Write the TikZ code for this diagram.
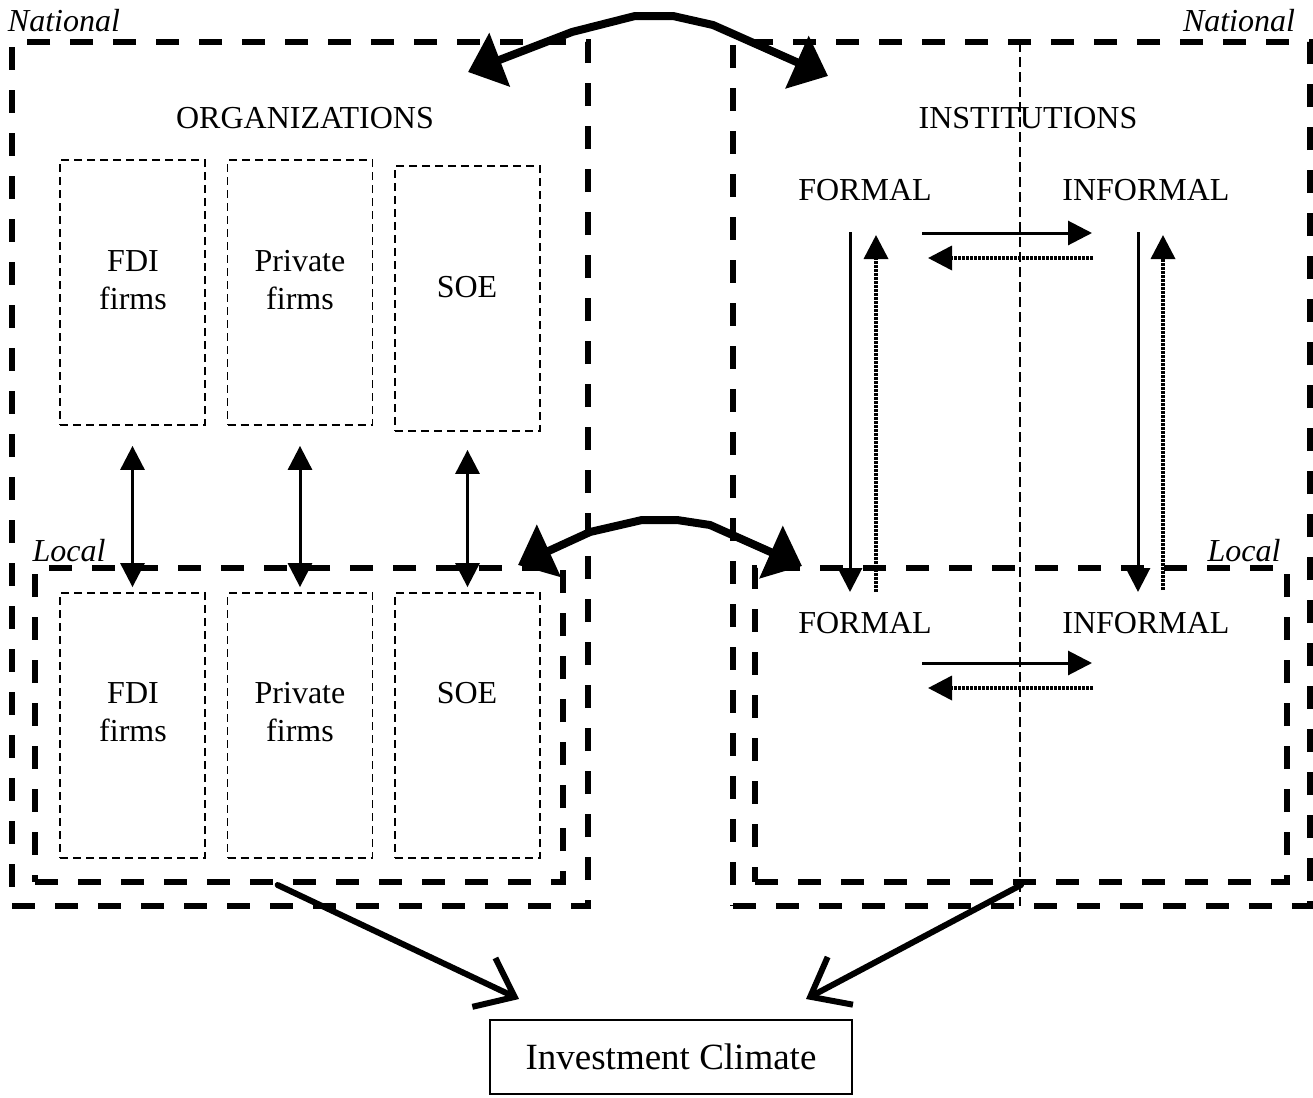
\documentclass[tikz,border=0pt]{standalone}
\usepackage{fontspec}
\setmainfont{Liberation Serif}
\usetikzlibrary{arrows.meta,calc}
\tikzset{
  natbox/.style={draw, line width=3pt, dash pattern=on 11.5pt off 10pt},
  firmbox/.style={draw, line width=0.9pt, dash pattern=on 4pt off 2.5pt, minimum width=72.5pt, minimum height=132.5pt},
  divline/.style={line width=0.9pt, dash pattern=on 5pt off 2.5pt},
  lbl/.style={font=\fontsize{16}{19}\selectfont, align=center, inner sep=0pt},
  lvl/.style={font=\fontsize{16}{19}\selectfont\itshape, inner sep=0pt},
  link/.style={line width=1.5pt, -{Triangle[length=12pt,width=12pt]}},
  linkboth/.style={line width=1.5pt, {Triangle[length=12pt,width=12pt]}-{Triangle[length=12pt,width=12pt]}},
  feedback/.style={line width=1.8pt, dash pattern=on 1.4pt off 0.6pt, -{Triangle[length=12pt,width=12pt]}},
  bridge/.style={line width=4pt, line join=round, {Triangle[length=17pt,width=28pt]}-{Triangle[length=17pt,width=28pt]}},
  effect/.style={line width=3pt, line cap=round, -{Straight Barb[length=17pt,width=27pt]}}
}
\begin{document}
\begin{tikzpicture}[x=0.5pt, y=-0.5pt]
  \useasboundingbox (0,0) rectangle (1313,1098);

  % national and local frames
  \node[natbox, minimum width=288pt, minimum height=432pt] (orgN) at (300,474) {};
  \node[natbox, minimum width=288.5pt, minimum height=432pt] (instN) at (1021.5,474) {};
  \node[natbox, minimum width=264pt, minimum height=157pt] (orgL) at (299,725) {};
  \node[natbox, minimum width=266pt, minimum height=157pt] (instL) at (1021,725) {};
  \draw[divline] (1020,42) -- (1020,906);

  \node[lvl] (natL) at (64,21) {National};
  \node[lvl] (natR) at (1239,21) {National};
  \node[lvl] (locL) at (69,551) {Local};
  \node[lvl] (locR) at (1244,551) {Local};

  \node[lbl] (orgT) at (305,118) {ORGANIZATIONS};
  \node[lbl] (instT) at (1028,118) {INSTITUTIONS};

  % firms
  \node[firmbox] (fdiN) at (132.5,292.5) {};
  \node[firmbox] (privN) at (300,292.5) {};
  \node[firmbox] (soeN) at (467.5,298.5) {};
  \node[firmbox] (fdiL) at (132.5,725.5) {};
  \node[firmbox] (privL) at (300,725.5) {};
  \node[firmbox] (soeL) at (467.5,725.5) {};
  \node[lbl] (fdiNt) at (133,280) {FDI\\firms};
  \node[lbl] (privNt) at (300,280) {Private\\firms};
  \node[lbl] (soeNt) at (467,287) {SOE};
  \node[lbl] (fdiLt) at (133,712) {FDI\\firms};
  \node[lbl] (privLt) at (300,712) {Private\\firms};
  \node[lbl] (soeLt) at (467,693) {SOE};

  \draw[linkboth, shorten <=10pt, shorten >=2.5pt] (fdiN.south) -- (fdiL.north);
  \draw[linkboth, shorten <=10pt, shorten >=2.5pt] (privN.south) -- (privL.north);
  \draw[linkboth, shorten <=9pt, shorten >=2.5pt] (soeN.south) -- (soeL.north);

  % formal / informal
  \node[lbl] (frmN) at (865,190) {FORMAL};
  \node[lbl] (infN) at (1146,190) {INFORMAL};
  \node[lbl] (frmL) at (865,623) {FORMAL};
  \node[lbl] (infL) at (1146,623) {INFORMAL};

  \coordinate (frmDownA) at (850,232);
  \coordinate (frmDownB) at (850,592);
  \coordinate (frmUpA) at (876,592);
  \coordinate (frmUpB) at (876,235);
  \coordinate (infDownA) at (1138,232);
  \coordinate (infDownB) at (1138,592);
  \coordinate (infUpA) at (1163,590);
  \coordinate (infUpB) at (1163,235);
  \draw[link] (frmDownA) -- (frmDownB);
  \draw[feedback] (frmUpA) -- (frmUpB);
  \draw[link] (infDownA) -- (infDownB);
  \draw[feedback] (infUpA) -- (infUpB);

  \coordinate (natFI) at (922,233);
  \coordinate (natIF) at (1092,233);
  \coordinate (natFIb) at (1093,258);
  \coordinate (natIFb) at (928,258);
  \coordinate (locFI) at (922,663);
  \coordinate (locIF) at (1092,663);
  \coordinate (locFIb) at (1093,688);
  \coordinate (locIFb) at (928,688);
  \draw[link] (natFI) -- (natIF);
  \draw[feedback] (natFIb) -- (natIFb);
  \draw[link] (locFI) -- (locIF);
  \draw[feedback] (locFIb) -- (locIFb);

  % organizations <-> institutions
  \coordinate (bridgeNL) at (468,72);
  \coordinate (bridgeNR) at (828,76);
  \coordinate (bridgeLL) at (518,565);
  \coordinate (bridgeLR) at (802,566);
  \draw[bridge] (bridgeNL) -- (572,32) -- (635,16) -- (673,16) -- (713,25) -- (bridgeNR);
  \draw[bridge] (bridgeLL) -- (590,532) -- (642,520) -- (677,520) -- (710,525) -- (bridgeLR);

  % outcome
  \node[draw, line width=1pt, minimum width=181pt, minimum height=37pt,
        font=\fontsize{18.5}{22}\selectfont] (climate) at (671,1057) {Investment Climate};
  \draw[effect] ($(orgL.south west)!0.46!(orgL.south east)$) -- ([xshift=15pt,yshift=10pt]climate.north west);
  \draw[effect] (instL.south) -- ([xshift=-23.5pt,yshift=10pt]climate.north east);
\end{tikzpicture}
\end{document}
